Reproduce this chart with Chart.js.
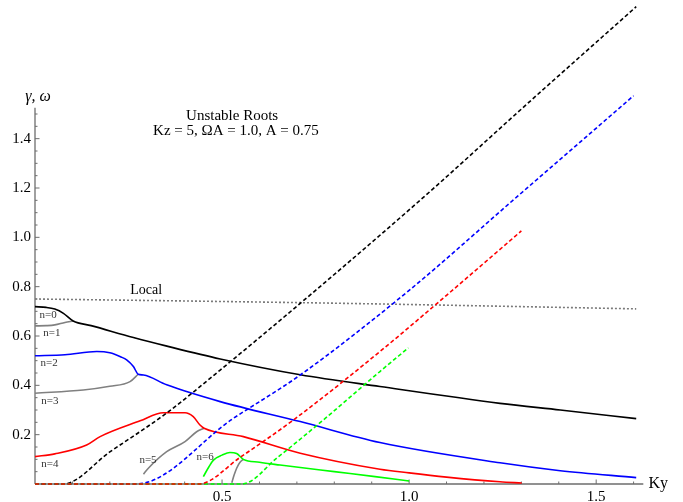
<!DOCTYPE html>
<html>
<head>
<meta charset="utf-8">
<script src="https://cdn.jsdelivr.net/npm/chart.js@4.4.1/dist/chart.umd.min.js"></script>
<style>
  html, body { margin: 0; padding: 0; background: #fff; }
  #wrap { width: 683px; height: 502px; }
</style>
</head>
<body>
<div id="wrap"><canvas id="rootsChart"></canvas></div>
<script>
// growth rates (solid) per branch
const kyN0 = [0, 0.03, 0.053, 0.076, 0.102, 0.15, 0.263, 0.35, 0.495, 0.709, 0.922, 1.243, 1.404, 1.607]
const gammaN0 = [0.719, 0.716, 0.709, 0.692, 0.661, 0.642, 0.594, 0.56, 0.507, 0.443, 0.395, 0.327, 0.300, 0.265]
const kyN1 = [0, 0.03, 0.053, 0.08, 0.102]
const gammaN1 = [0.641, 0.642, 0.645, 0.655, 0.661]
const kyN2 = [0, 0.08, 0.165, 0.2, 0.23, 0.245, 0.263, 0.276, 0.29, 0.352, 0.495, 0.709, 0.922, 1.243, 1.404, 1.607]
const gammaN2 = [0.520, 0.524, 0.537, 0.532, 0.515, 0.503, 0.476, 0.445, 0.442, 0.402, 0.334, 0.253, 0.168, 0.086, 0.054, 0.026]
const kyN3 = [0, 0.129, 0.2, 0.254, 0.276]
const gammaN3 = [0.368, 0.381, 0.396, 0.415, 0.445]
const kyN4 = [0, 0.053, 0.138, 0.174, 0.281, 0.343, 0.401, 0.423, 0.441, 0.452, 0.557, 0.709, 0.922, 1.0, 1.1, 1.243, 1.301]
const gammaN4 = [0.111, 0.122, 0.158, 0.192, 0.256, 0.289, 0.289, 0.273, 0.239, 0.226, 0.192, 0.125, 0.060, 0.045, 0.028, 0.009, 0.004]
const kyN5 = [0.29, 0.303, 0.352, 0.401, 0.432, 0.452]
const gammaN5 = [0.04, 0.064, 0.131, 0.172, 0.212, 0.226]
const kyN6 = [0.45, 0.465, 0.477, 0.5, 0.521, 0.539, 0.557, 0.6, 0.655, 0.8, 0.909, 1.0]
const gammaN6 = [0.030, 0.07, 0.097, 0.117, 0.128, 0.124, 0.100, 0.088, 0.077, 0.05, 0.030, 0.012]
const kyN6b = [0.526, 0.532, 0.539, 0.548, 0.557]
const gammaN6b = [0.005, 0.035, 0.064, 0.088, 0.100]

// real frequencies (dashed)
const kyOmBlack = [0, 0.075, 0.2, 0.352, 0.495, 0.75, 1.056, 1.3, 1.607]
const omBlack = [0, 0, 0.13, 0.288, 0.462, 0.785, 1.186, 1.52, 1.935]
const kyOmBlue = [0, 0.27, 0.53, 0.709, 1.0, 1.279, 1.6]
const omBlue = [0, 0, 0.266, 0.442, 0.785, 1.152, 1.574]
const kyOmRed = [0, 0.437, 0.55, 0.691, 0.922, 1.1, 1.3]
const omRed = [0, 0, 0.11, 0.26, 0.537, 0.765, 1.026]
const kyOmGreen = [0, 0.553, 0.65, 0.771, 0.922, 0.998]
const omGreen = [0, 0, 0.11, 0.26, 0.456, 0.552]

// local estimate
const kyLocal = [0, 0.4, 0.8, 1.2, 1.607]
const gammaLocal = [0.75, 0.742, 0.733, 0.722, 0.71]

const xTicks = [0.5, 1.0, 1.5]
const yTicks = [0.2, 0.4, 0.6, 0.8, 1.0, 1.2, 1.4]

const branchLabels = ["n=0", "n=1", "n=2", "n=3", "n=4", "n=5", "n=6"]
const branchLabelKy = [0.035, 0.045, 0.038, 0.040, 0.040, 0.302, 0.455]
const branchLabelGamma = [0.686, 0.613, 0.492, 0.337, 0.081, 0.097, 0.111]

;(function() {
    "use strict"

    const SERIF = '"Liberation Serif", "DejaVu Serif", serif'
    const AXIS_COLOR = '#6e6e6e'

    const pts = (xs, ys) => xs.map((x, i) => ({ x: x, y: ys[i] }))

    const line = (xs, ys, color, dash, order) => ({
        data: pts(xs, ys),
        borderColor: color,
        borderWidth: 1.6,
        borderDash: dash || [],
        pointRadius: 0,
        cubicInterpolationMode: 'monotone',
        clip: 4,
        order: order
    })

    // mathematica style axes, ticks pointing inwards
    const axesPlugin = {
        id: 'mmaAxes',
        beforeDatasetsDraw: (chart) => {
            const c = chart.ctx
            const xs = chart.scales.x, ys = chart.scales.y
            const x0 = xs.getPixelForValue(0), y0 = ys.getPixelForValue(0)
            c.save()
            c.strokeStyle = AXIS_COLOR
            c.lineWidth = 1.3
            c.beginPath()
            c.moveTo(x0, y0); c.lineTo(xs.getPixelForValue(1.626), y0)
            c.moveTo(x0, y0); c.lineTo(x0, ys.getPixelForValue(1.525))
            c.stroke()
            c.lineWidth = 1
            c.beginPath()
            for (let i = 1; i <= 16; i++) {
                const px = xs.getPixelForValue(i / 10)
                const len = i % 5 === 0 ? 4.5 : 2.5
                c.moveTo(px, y0); c.lineTo(px, y0 - len)
            }
            for (let i = 1; i <= 30; i++) {
                const py = ys.getPixelForValue(i / 20)
                const len = i % 4 === 0 ? 4.5 : 2.5
                c.moveTo(x0, py); c.lineTo(x0 + len, py)
            }
            c.stroke()
            c.restore()
        },
        afterDraw: (chart) => {
            const c = chart.ctx
            const xs = chart.scales.x, ys = chart.scales.y
            c.save()
            c.fillStyle = '#000'
            c.textAlign = 'center'
            c.textBaseline = 'middle'
            c.font = '15px ' + SERIF
            c.fillText('Unstable Roots', xs.getPixelForValue(0.527), ys.getPixelForValue(1.493))
            c.fillText('Kz = 5, \u03A9A = 1.0, A = 0.75', xs.getPixelForValue(0.537), ys.getPixelForValue(1.432))
            c.font = '14px ' + SERIF
            c.fillText('Local', xs.getPixelForValue(0.297), ys.getPixelForValue(0.785))
            c.font = 'italic 16px ' + SERIF
            c.fillText('\u03B3, \u03C9', 38, ys.getPixelForValue(1.57))
            c.font = '16px ' + SERIF
            c.textAlign = 'left'
            c.fillText('Ky', xs.getPixelForValue(1.64), ys.getPixelForValue(0))
            c.textAlign = 'center'
            c.font = '11px ' + SERIF
            c.fillStyle = '#333'
            branchLabels.forEach((t, i) => {
                c.fillText(t, xs.getPixelForValue(branchLabelKy[i]), ys.getPixelForValue(branchLabelGamma[i]))
            })
            c.restore()
        }
    }

    const dashed = [4, 2.5]
    const datasets = [
        line(kyOmRed, omRed, '#ff0000', dashed, 1),
        line(kyOmGreen, omGreen, '#00ff00', dashed, 2),
        line(kyOmBlue, omBlue, '#0000ff', dashed, 3),
        line(kyOmBlack, omBlack, '#000000', dashed, 4),
        line(kyN0, gammaN0, '#000000', null, 5),
        line(kyN2, gammaN2, '#0000ff', null, 6),
        line(kyN4, gammaN4, '#ff0000', null, 7),
        line(kyN6, gammaN6, '#00ff00', null, 8),
        line(kyN1, gammaN1, '#808080', null, 9),
        line(kyN3, gammaN3, '#808080', null, 10),
        line(kyN5, gammaN5, '#808080', null, 11),
        line(kyN6b, gammaN6b, '#808080', null, 12),
        line(kyLocal, gammaLocal, '#7a7a7a', [2, 2], 13)
    ]

    const ctx = document.getElementById('rootsChart')
    new Chart(ctx, {
        type: 'line',
        data: { datasets: datasets },
        options: {
            responsive: true,
            maintainAspectRatio: false,
            animation: false,
            events: [],
            layout: { padding: { top: 3, right: 12, left: 0, bottom: 0 } },
            plugins: { legend: { display: false }, tooltip: { enabled: false } },
            scales: {
                x: {
                    type: 'linear',
                    min: 0,
                    max: 1.7,
                    border: { display: false },
                    grid: { display: false, drawTicks: false },
                    afterBuildTicks: s => { s.ticks = xTicks.map(v => ({ value: v })) },
                    afterFit: s => { s.height = 18; s.paddingLeft = 0; s.paddingRight = 0 },
                    ticks: {
                        padding: 4,
                        color: '#000',
                        maxRotation: 0,
                        font: { family: SERIF, size: 15 },
                        callback: v => v.toFixed(1)
                    }
                },
                y: {
                    type: 'linear',
                    min: 0,
                    max: 1.95,
                    border: { display: false },
                    grid: { display: false, drawTicks: false },
                    afterBuildTicks: s => { s.ticks = yTicks.map(v => ({ value: v })) },
                    afterFit: s => { s.width = 35; s.paddingTop = 0; s.paddingBottom = 0 },
                    ticks: {
                        padding: 4,
                        color: '#000',
                        font: { family: SERIF, size: 15 },
                        callback: v => v.toFixed(1)
                    }
                }
            }
        },
        plugins: [axesPlugin]
    })
})()
</script>
</body>
</html>
